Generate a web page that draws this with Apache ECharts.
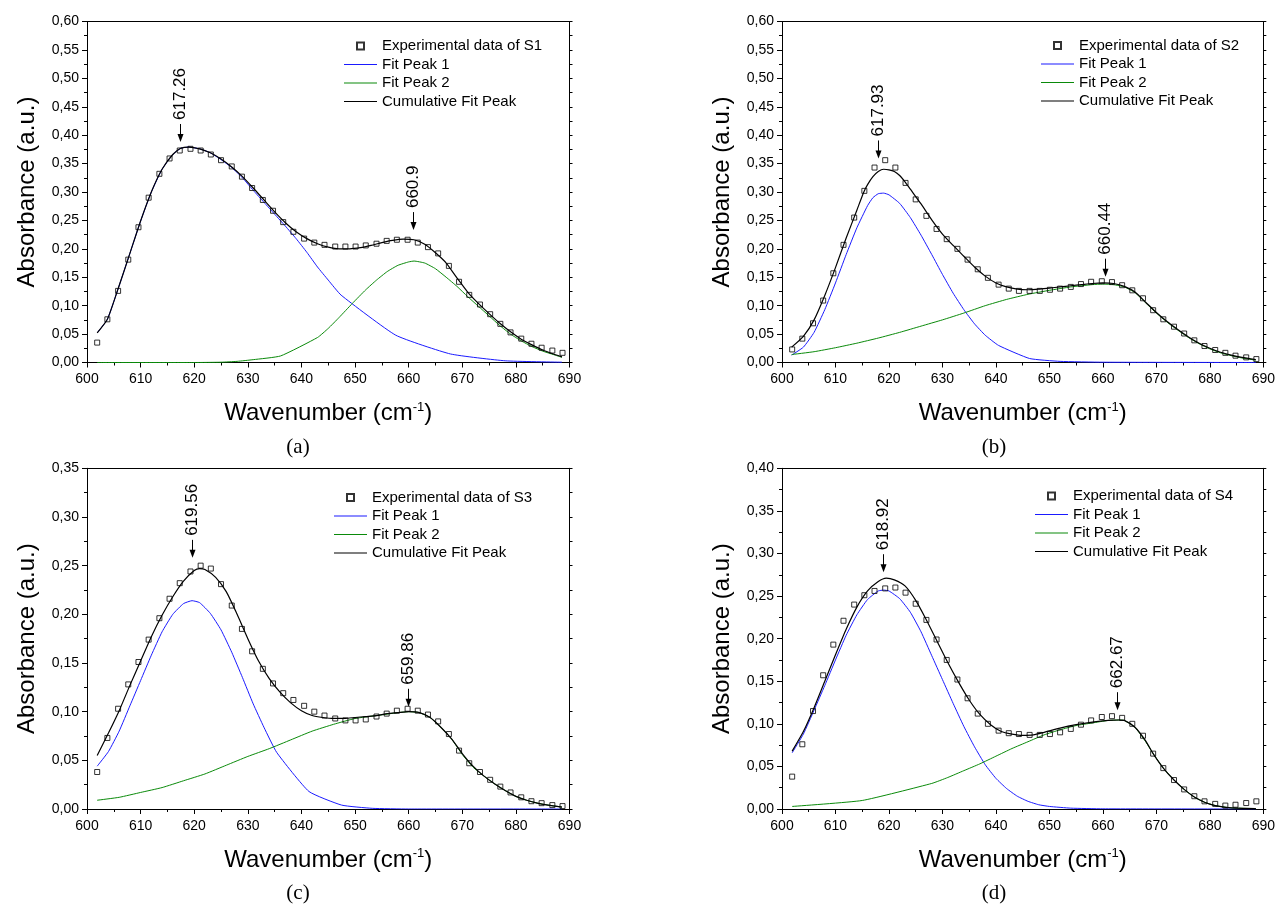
<!DOCTYPE html>
<html><head><meta charset="utf-8">
<script src="https://cdn.jsdelivr.net/npm/echarts@6/dist/echarts.min.js"></script>
<style>html,body{margin:0;padding:0;background:#fff}#c{width:1278px;height:905px}</style>
</head><body><div id="c"></div>
<script>
// ---- data ----
const X = [601.9,603.8,605.8,607.7,609.6,611.5,613.5,615.4,617.3,619.3,621.2,623.1,625.0,627.0,628.9,630.8,632.8,634.7,636.6,638.5,640.5,642.4,644.3,646.3,648.2,650.1,652.0,654.0,655.9,657.8,659.8,661.7,663.6,665.5,667.5,669.4,671.3,673.3,675.2,677.1,679.0,681.0,682.9,684.8,686.8,688.7];

const expS1 = [0.035,0.076,0.126,0.181,0.238,0.290,0.332,0.359,0.373,0.376,0.373,0.366,0.356,0.345,0.327,0.307,0.286,0.267,0.247,0.230,0.218,0.211,0.207,0.204,0.204,0.204,0.206,0.209,0.214,0.216,0.216,0.211,0.203,0.192,0.170,0.142,0.119,0.102,0.085,0.068,0.053,0.042,0.033,0.026,0.021,0.017];
const expS2 = [0.023,0.042,0.069,0.109,0.157,0.207,0.255,0.302,0.343,0.356,0.343,0.316,0.287,0.258,0.235,0.217,0.200,0.181,0.164,0.149,0.137,0.130,0.126,0.126,0.126,0.128,0.130,0.133,0.138,0.142,0.143,0.1415,0.136,0.127,0.113,0.092,0.076,0.063,0.051,0.039,0.029,0.022,0.017,0.012,0.009,0.006];
const expS3 = [0.038,0.073,0.103,0.128,0.151,0.174,0.196,0.216,0.232,0.244,0.250,0.247,0.231,0.209,0.185,0.162,0.144,0.129,0.119,0.112,0.106,0.100,0.096,0.093,0.091,0.091,0.092,0.095,0.098,0.101,0.103,0.101,0.097,0.090,0.077,0.060,0.047,0.038,0.030,0.023,0.017,0.012,0.008,0.006,0.004,0.003];
const expS4 = [0.038,0.076,0.115,0.157,0.193,0.221,0.240,0.251,0.256,0.259,0.260,0.254,0.241,0.222,0.199,0.175,0.152,0.130,0.112,0.100,0.092,0.089,0.088,0.087,0.087,0.088,0.090,0.094,0.099,0.104,0.108,0.109,0.107,0.100,0.086,0.065,0.048,0.034,0.023,0.015,0.009,0.006,0.004,0.005,0.007,0.009];

const peak1A = [[601.9,0.052],[603.8,0.076],[605.6,0.124],[608,0.192],[610,0.249],[612,0.300],[614,0.340],[616,0.366],[617.5,0.377],[619,0.379],[621,0.376],[623,0.369],[625,0.357],[627,0.343],[629,0.325],[631,0.303],[633,0.282],[635,0.261],[637,0.240],[639,0.218],[641,0.194],[643,0.168],[645,0.145],[647.4,0.1185],[657.6,0.048],[667.8,0.015],[678,0.003],[688.6,0.0005]];
const peak2A = [[601.9,0],[620,0],[625,0.0005],[628,0.002],[631,0.005],[636.1,0.0115],[643,0.044],[645,0.060],[647,0.079],[649.5,0.104],[652,0.128],[654,0.145],[656,0.160],[658,0.171],[660,0.177],[661,0.1785],[663,0.175],[665,0.165],[667,0.150],[669,0.134],[671,0.116],[673,0.099],[675,0.082],[677,0.065],[679,0.050],[681,0.038],[683,0.028],[685,0.020],[687,0.014],[688.6,0.009]];
const cumA = [[601.9,0.052],[603.8,0.076],[605.6,0.124],[608,0.192],[610,0.249],[612,0.300],[614,0.340],[616,0.366],[617.5,0.377],[619,0.379],[621,0.376],[623,0.369],[625,0.358],[627,0.344],[629,0.327],[631,0.307],[633,0.286],[635,0.265],[637,0.246],[639,0.230],[641,0.218],[643,0.209],[645,0.203],[647,0.200],[649,0.200],[651,0.202],[653,0.206],[655,0.211],[657,0.215],[659,0.217],[661,0.216],[663,0.208],[665,0.193],[667,0.175],[669,0.149],[671,0.124],[673,0.104],[675,0.086],[677,0.069],[679,0.054],[681,0.041],[683,0.031],[685,0.022],[687,0.015],[688.6,0.010]];

const peak1B = [[601.8,0.013],[604,0.027],[606,0.053],[608,0.093],[610,0.140],[612,0.190],[614,0.237],[616,0.276],[617,0.290],[618,0.297],[619,0.298],[620,0.295],[622,0.280],[624,0.255],[626,0.224],[628,0.190],[630,0.155],[632,0.122],[634,0.093],[636,0.068],[638,0.048],[640.5,0.030],[646.3,0.007],[652,0.002],[660,0.0005],[688.6,0]];
const peak2B = [[601.8,0.014],[606,0.019],[610,0.026],[614,0.034],[618,0.043],[622,0.053],[626,0.064],[630,0.075],[634,0.087],[638,0.100],[642,0.111],[646,0.120],[650,0.127],[654,0.133],[658,0.137],[660,0.138],[662,0.137],[664,0.133],[666,0.123],[668,0.105],[670,0.087],[672,0.071],[674,0.057],[676,0.044],[678,0.033],[680,0.024],[682,0.017],[684,0.012],[686,0.008],[688.6,0.004]];
const cumB = [[601.8,0.027],[604,0.046],[606,0.075],[608,0.118],[610,0.167],[612,0.219],[614,0.268],[615.3,0.300],[616,0.313],[617,0.327],[618,0.336],[619,0.340],[620,0.339],[621,0.336],[622,0.329],[623,0.318],[624,0.305],[626,0.279],[628,0.251],[630,0.226],[632,0.206],[634,0.187],[636,0.168],[638,0.152],[640,0.140],[642,0.133],[644,0.129],[646,0.128],[648,0.129],[650,0.131],[652,0.133],[654,0.135],[656,0.137],[658,0.139],[660,0.140],[662,0.139],[664,0.134],[666,0.124],[668,0.106],[670,0.088],[672,0.072],[674,0.058],[676,0.045],[678,0.034],[680,0.025],[682,0.018],[684,0.013],[686,0.009],[688.6,0.005]];

const peak1C = [[601.9,0.044],[604,0.059],[606,0.080],[608,0.106],[610,0.132],[612,0.158],[614,0.182],[616,0.200],[618,0.211],[619.6,0.214],[621,0.212],[623,0.201],[625,0.184],[627,0.161],[629,0.135],[631,0.108],[633,0.084],[635.4,0.058],[641.4,0.018],[647.5,0.004],[653.2,0.0007],[660,0],[688.6,0]];
const peak2C = [[601.9,0.009],[606,0.012],[610,0.017],[614,0.022],[618,0.029],[622,0.036],[626,0.045],[630,0.054],[634,0.062],[638,0.071],[642,0.080],[646,0.087],[650,0.093],[654,0.096],[658,0.099],[660,0.100],[662,0.099],[664,0.094],[666,0.084],[668,0.072],[670,0.056],[672,0.043],[674,0.034],[676,0.026],[678,0.019],[680,0.013],[682,0.009],[684,0.006],[686,0.004],[688.6,0.002]];
const cumC = [[601.9,0.055],[604,0.078],[606,0.101],[608,0.127],[610,0.152],[612,0.177],[614,0.199],[616,0.218],[618,0.234],[620,0.245],[621,0.247],[622,0.246],[624,0.238],[626,0.223],[628,0.200],[630,0.175],[632,0.152],[634,0.134],[636,0.120],[638,0.109],[640,0.101],[642,0.096],[644,0.094],[646,0.093],[648,0.093],[650,0.094],[652,0.095],[654,0.096],[656,0.098],[658,0.099],[660,0.100],[662,0.099],[664,0.094],[666,0.084],[668,0.072],[670,0.057],[672,0.044],[674,0.034],[676,0.026],[678,0.019],[680,0.013],[682,0.009],[684,0.006],[686,0.004],[688.6,0.002]];

const peak1D = [[601.9,0.066],[604,0.088],[606,0.116],[608,0.145],[610,0.175],[612,0.204],[614,0.228],[616,0.246],[618,0.256],[619,0.257],[620,0.256],[622,0.247],[624,0.231],[626,0.208],[628,0.180],[630,0.152],[632,0.124],[634,0.097],[636,0.073],[638,0.052],[640,0.036],[642,0.024],[644,0.015],[646,0.009],[648,0.005],[650,0.003],[654,0.001],[660,0.0002],[688.6,0]];
const peak2D = [[601.9,0.003],[615,0.010],[628,0.030],[631,0.037],[634,0.045],[637,0.053],[640,0.062],[643,0.071],[646,0.079],[649,0.087],[652,0.093],[655,0.098],[658,0.101],[661,0.104],[663,0.1045],[664,0.104],[666,0.096],[668,0.079],[669.4,0.065],[671.3,0.048],[673.3,0.034],[675.2,0.023],[677.1,0.014],[679,0.008],[681,0.004],[683,0.002],[685,0.001],[688.6,0.0005]];
const cumD = [[601.9,0.068],[604,0.091],[606,0.119],[608,0.150],[610,0.181],[612,0.211],[614,0.237],[616,0.256],[618,0.267],[619.5,0.271],[621,0.269],[623,0.262],[625,0.245],[627,0.222],[629,0.197],[631,0.172],[633,0.149],[635,0.128],[637,0.111],[639,0.099],[641,0.091],[643,0.088],[645,0.0865],[647,0.087],[649,0.090],[652,0.095],[655,0.099],[658,0.102],[661,0.104],[663,0.1045],[664,0.104],[666,0.096],[668,0.080],[669.4,0.065],[671.3,0.048],[673.3,0.034],[675.2,0.023],[677.1,0.014],[679,0.008],[681,0.004],[683,0.002],[685,0.001],[688.6,0.0005]];

// peak annotations: position and arrow-tip absorbance
const peaksA = [617.26, 660.9],  tipsA = [0.388, 0.233];
const peaksB = [617.93, 660.44], tipsB = [0.359, 0.151];
const peaksC = [619.56, 659.86], tipsC = [0.258, 0.105];
const peaksD = [618.92, 662.67], tipsD = [0.278, 0.116];

const yMaxes = [0.60, 0.60, 0.35, 0.40];
const sampleNames = ['S1', 'S2', 'S3', 'S4'];
const panelTags = ['(a)', '(b)', '(c)', '(d)'];

// ---- layout ----
const SANS = '"Liberation Sans", Arial, Helvetica, sans-serif';
const SERIF = '"Liberation Serif", "Times New Roman", serif';
const layout = [
  { grid: {left: 87, top: 21.5, width: 482.5, height: 341}, legend: {left: 344, top: 38.5}, tag: [298, 437] },
  { grid: {left: 782, top: 21.5, width: 482.5, height: 341}, legend: {left: 1041, top: 38}, tag: [994, 437] },
  { grid: {left: 87, top: 468.3, width: 482.5, height: 340.7}, legend: {left: 334, top: 490}, tag: [298, 882.5] },
  { grid: {left: 782, top: 468.3, width: 482.5, height: 340.7}, legend: {left: 1035, top: 488.5}, tag: [994, 882.5] }
];

const panels = [
  {exp: expS1, p1: peak1A, p2: peak2A, cum: cumA, peaks: peaksA, tips: tipsA},
  {exp: expS2, p1: peak1B, p2: peak2B, cum: cumB, peaks: peaksB, tips: tipsB},
  {exp: expS3, p1: peak1C, p2: peak2C, cum: cumC, peaks: peaksC, tips: tipsC},
  {exp: expS4, p1: peak1D, p2: peak2D, cum: cumD, peaks: peaksD, tips: tipsD}
];

const SQUARE = 'path://M0,0H10V10H0Z';
const LINE_ICON = 'path://M0,0H66V2H0Z';
const BLUE = '#1a1aff', GREEN = '#0a8a0a';
const grids = [], xAxes = [], yAxes = [], series = [], legends = [], titles = [];

panels.forEach((pn, i) => {
  const L = layout[i];
  grids.push(Object.assign({containLabel: false}, L.grid));
  const lineBlack = {color: '#000', width: 1};
  xAxes.push({
    gridIndex: i, type: 'value', min: 600, max: 690, interval: 10, position: 'bottom',
    axisLine: {show: true, onZero: false, lineStyle: lineBlack},
    axisTick: {show: true, inside: false, length: 5, lineStyle: lineBlack},
    minorTick: {show: true, splitNumber: 2, length: 3, lineStyle: lineBlack},
    splitLine: {show: false},
    axisLabel: {color: '#000', fontSize: 14, fontFamily: SANS, margin: 10},
    name: 'Wavenumber (cm{s|-1})', nameLocation: 'middle', nameGap: 38,
    nameTextStyle: {color: '#000', fontSize: 24, fontFamily: SANS, lineHeight: 26,
      rich: {s: {fontSize: 13, fontFamily: SANS, color: '#000', verticalAlign: 'top', lineHeight: 13}}}
  });
  xAxes.push({
    gridIndex: i, type: 'value', min: 600, max: 690, interval: 10, position: 'top',
    axisLine: {show: true, onZero: false, lineStyle: lineBlack},
    axisTick: {show: false}, minorTick: {show: false},
    splitLine: {show: false}, axisLabel: {show: false}
  });
  const yMax = yMaxes[i];
  yAxes.push({
    gridIndex: i, type: 'value', min: 0, max: yMax, interval: 0.05, position: 'left',
    axisLine: {show: true, onZero: false, lineStyle: lineBlack},
    axisTick: {show: true, inside: false, length: 5, lineStyle: lineBlack},
    minorTick: {show: true, splitNumber: 2, length: 3, lineStyle: lineBlack},
    splitLine: {show: false},
    axisLabel: {color: '#000', fontSize: 14, fontFamily: SANS, margin: 8,
      formatter: v => v.toFixed(2).replace('.', ',')},
    name: 'Absorbance (a.u.)', nameLocation: 'middle', nameGap: 48,
    nameTextStyle: {color: '#000', fontSize: 24, fontFamily: SANS}
  });
  yAxes.push({
    gridIndex: i, type: 'value', min: 0, max: yMax, interval: 0.05, position: 'right',
    axisLine: {show: true, onZero: false, lineStyle: lineBlack},
    axisTick: {show: true, inside: false, length: 3, lineStyle: lineBlack},
    minorTick: {show: true, splitNumber: 2, length: 3, lineStyle: lineBlack},
    splitLine: {show: false}, axisLabel: {show: false}
  });

  const xi = 2 * i, yi = 2 * i;
  const expName = 'Experimental data of ' + sampleNames[i];
  series.push({
    name: 'Fit Peak 1', type: 'line', xAxisIndex: xi, yAxisIndex: yi, data: pn.p1,
    symbol: 'none', smooth: 0.15, lineStyle: {color: BLUE, width: 1}, itemStyle: {color: BLUE}, silent: true, z: 2
  });
  series.push({
    name: 'Fit Peak 2', type: 'line', xAxisIndex: xi, yAxisIndex: yi, data: pn.p2,
    symbol: 'none', smooth: 0.15, lineStyle: {color: GREEN, width: 1}, itemStyle: {color: GREEN}, silent: true, z: 2
  });
  series.push({
    name: 'Cumulative Fit Peak', type: 'line', xAxisIndex: xi, yAxisIndex: yi, data: pn.cum,
    symbol: 'none', smooth: 0.2, lineStyle: {color: '#000', width: 1.2}, itemStyle: {color: '#000'}, silent: true, z: 3
  });
  series.push({
    name: expName, type: 'scatter', xAxisIndex: xi, yAxisIndex: yi,
    data: X.map((x, k) => [x, pn.exp[k]]),
    symbol: SQUARE, symbolSize: 5,
    itemStyle: {color: 'rgba(255,255,255,0)', borderColor: '#000', borderWidth: 1}, silent: true, z: 4
  });
  const peaks = pn.peaks;
  series.push({
    type: 'custom', xAxisIndex: xi, yAxisIndex: yi, silent: true, clip: false, z: 5,
    data: peaks.map((p, k) => [p, pn.tips[k]]),
    renderItem: (params, api) => {
      const pt = api.coord([api.value(0), api.value(1)]);
      const x = Math.round(pt[0]) + 0.5, y = pt[1];
      return {type: 'group', children: [
        {type: 'line', shape: {x1: x, y1: y - 18, x2: x, y2: y - 6}, style: {stroke: '#000', lineWidth: 1}},
        {type: 'polygon', shape: {points: [[x - 3, y - 8], [x + 3, y - 8], [x, y]]}, style: {fill: '#000'}},
        {type: 'text', x: x, y: y - 22, rotation: Math.PI / 2,
          style: {text: String(peaks[params.dataIndex]), fill: '#000', fontSize: 17, fontFamily: SANS,
            align: 'left', verticalAlign: 'middle'}}
      ]};
    }
  });

  legends.push({
    orient: 'vertical', left: L.legend.left, top: L.legend.top, padding: 0,
    itemWidth: 33, itemHeight: 7, itemGap: 3.5, selectedMode: false,
    textStyle: {color: '#000', fontSize: 15, fontFamily: SANS, lineHeight: 15},
    data: [
      {name: expName, icon: SQUARE},
      {name: 'Fit Peak 1', icon: LINE_ICON, itemStyle: {color: BLUE, borderWidth: 0}},
      {name: 'Fit Peak 2', icon: LINE_ICON, itemStyle: {color: GREEN, borderWidth: 0}},
      {name: 'Cumulative Fit Peak', icon: LINE_ICON, itemStyle: {color: '#000', borderWidth: 0}}
    ]
  });
  titles.push({
    text: panelTags[i], left: L.tag[0], top: L.tag[1], textAlign: 'center', padding: 0,
    textStyle: {color: '#000', fontSize: 21, fontWeight: 'normal', fontFamily: SERIF}
  });
});

const chart = echarts.init(document.getElementById('c'), null, {renderer: 'canvas'});
chart.setOption({
  backgroundColor: '#fff',
  animation: false,
  title: titles,
  grid: grids,
  xAxis: xAxes,
  yAxis: yAxes,
  legend: legends,
  series: series
});
</script></body></html>
